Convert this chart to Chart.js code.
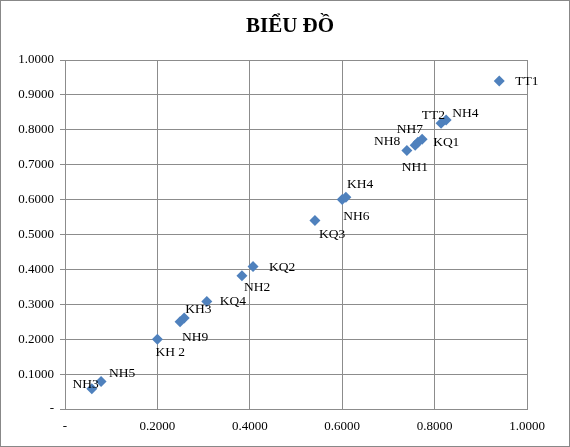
<!DOCTYPE html>
<html><head><meta charset="utf-8">
<script src="https://cdn.jsdelivr.net/npm/chart.js@4"></script>
<style>html,body{margin:0;padding:0;background:#fff}#w{width:570px;height:447px;position:relative}</style>
</head><body><div id="w"><canvas id="c"></canvas></div>
<script>
const names = ['TT1','TT2','NH4','NH1','NH8','NH7','KQ1','NH6','KH4','KQ3','KQ2','NH2','KQ4','KH3','NH9','KH 2','NH5','NH3'];
const xs = [0.940,0.814,0.825,0.740,0.758,0.764,0.773,0.600,0.608,0.541,0.407,0.383,0.307,0.258,0.249,0.200,0.078,0.058];
const ys = [0.940,0.819,0.828,0.741,0.756,0.764,0.773,0.600,0.607,0.540,0.408,0.382,0.308,0.261,0.250,0.200,0.079,0.058];
const labelOffsets = [[16,1,'left'],[4,-8,'right'],[6,-7,'left'],[8,17,'center'],[-15,-4,'right'],[-8,-13,'center'],[11,3,'left'],
  [1,17,'left'],[1,-13,'left'],[4,14,'left'],[16,1,'left'],[2,12,'left'],[13,0,'left'],[1,-8,'left'],[2,16,'left'],[-2,13,'left'],[8,-8,'left'],[7,-4,'right']];
const pts = xs.map((x,i)=>({x, y:ys[i]}));
const fmt = v => Math.abs(v)<1e-9 ? '-' : v.toFixed(4);
const deco = {id:'deco',
  beforeDraw(c){const g=c.ctx;g.save();g.fillStyle='#fff';g.fillRect(0,0,c.width,c.height);g.restore();},
  afterDraw(c){const g=c.ctx;g.save();
    g.font='bold 21px "Liberation Serif"';g.fillStyle='#000';g.textAlign='center';g.textBaseline='middle';
    g.fillText('BIỂU ĐỒ',290,27);
    g.font='13.5px "Liberation Serif"';g.textBaseline='middle';
    const m=c.getDatasetMeta(0);
    m.data.forEach((p,i)=>{const o=labelOffsets[i];g.textAlign=o[2];g.fillText(names[i],p.x+o[0],p.y+o[1]);});
    g.strokeStyle='#888';g.lineWidth=1;g.strokeRect(0.5,0.5,569,446);g.restore();}};
new Chart(document.getElementById('c'),{type:'scatter',
  data:{datasets:[{data:pts,pointStyle:'rectRot',pointRadius:5.5,pointHoverRadius:5.5,backgroundColor:'#4F81BD',borderColor:'#4F81BD',borderWidth:0}]},
  options:{responsive:true,maintainAspectRatio:false,animation:false,events:[],
    layout:{padding:{top:60,right:43,left:0,bottom:0}},
    plugins:{legend:{display:false},tooltip:{enabled:false}},
    scales:{
      x:{min:0,max:1,afterFit(s){s.height=38;},
        ticks:{stepSize:0.2,callback:fmt,color:'#000',font:{family:'Liberation Serif',size:13},padding:10,maxRotation:0},
        grid:{color:'#8c8c8c',tickLength:0,drawTicks:false},border:{color:'#8c8c8c'}},
      y:{min:0,max:1,afterFit(s){s.width=65;},
        ticks:{stepSize:0.1,callback:fmt,color:'#000',font:{family:'Liberation Serif',size:13},padding:6},
        grid:{color:'#8c8c8c',tickLength:5},border:{color:'#8c8c8c'}}}},
  plugins:[deco]});
</script></body></html>
